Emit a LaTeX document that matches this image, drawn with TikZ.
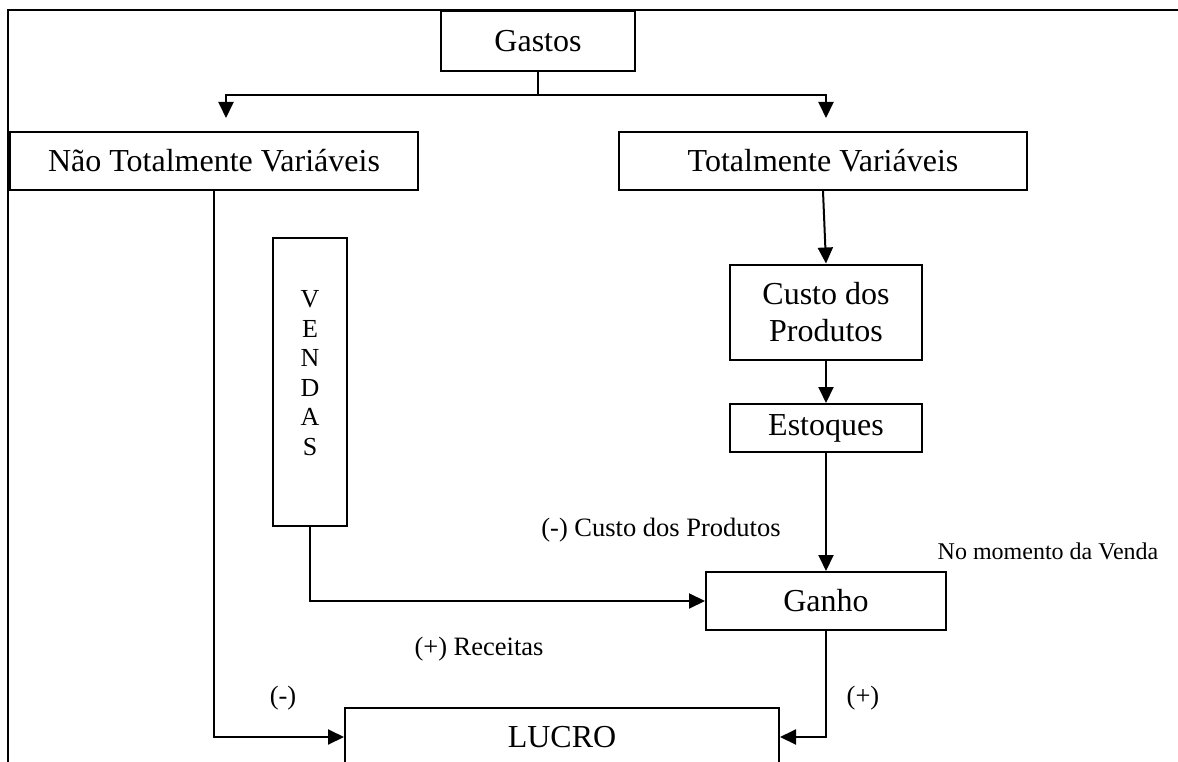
\documentclass[tikz,border=0pt]{standalone}
\usepackage{fontspec}
\setmainfont{Liberation Serif}
\usepackage{tikz}
\usetikzlibrary{arrows.meta, positioning}

\tikzset{
  caixa/.style={draw, line width=2pt, inner sep=0pt, align=center, font=\fontsize{32}{37}\selectfont},
  seta/.style={line width=2pt, -{Triangle[length=16pt, width=15pt]}},
  rotulo/.style={inner sep=0pt, font=\fontsize{26.5}{30}\selectfont}
}

\begin{document}
\begin{tikzpicture}[x=1pt, y=-1pt]
        \useasboundingbox (0,0) rectangle (1178,762);
        \draw[line width=1.5pt] (8,762) -- (8,10) -- (1178,10);

        \node[caixa, minimum width=194, minimum height=60] (gastos) at (538,41) {Gastos};
        \node[caixa, minimum width=408, minimum height=58] (ntv) at (214,161) {Não Totalmente Variáveis};
        \node[caixa, minimum width=408, minimum height=58] (tv) at (823,161) {Totalmente Variáveis};
        \node[caixa, minimum width=192, minimum height=95] (custo) at (826,312) {Custo dos\\Produtos};
        \node[caixa, minimum width=192, minimum height=48] (estoques) at (826,428) {Estoques};
        \node[caixa, minimum width=240, minimum height=58] (ganho) at (826,601) {Ganho};
        \node[caixa, minimum width=74, minimum height=288] (vendas) at (310,382) {};
        \node[align=center, inner sep=0pt, font=\fontsize{26}{29.5}\selectfont] (vendastxt) at (310,373) {V\\E\\N\\D\\A\\S};
        \node[caixa, minimum width=434, minimum height=58] (lucro) at (562,737) {LUCRO};

        \coordinate (divide) at (538,95);
        \coordinate (ntvin) at (226,118);
        \coordinate (tvin) at (826,118);
        \draw[line width=2pt] (gastos.south) -- (divide);
        \draw[seta] (divide) -| (ntvin);
        \draw[seta] (divide) -| (tvin);

        \draw[seta] (tv.south) -- (custo.north);
        \draw[seta] (custo) -- (estoques);
        \draw[seta] (estoques) -- (ganho);
        \draw[seta] (vendas.south) |- (ganho.west);
        \draw[seta] (ntv.south) |- (lucro.west);
        \draw[seta] (ganho.south) |- (lucro.east);

        \node[rotulo] (lblcusto) at (661,530) {(-) Custo dos Produtos};
        \node[rotulo, font=\fontsize{24}{28}\selectfont] (lblmomento) at (1048,551) {No momento da Venda};
        \node[rotulo] (lblreceitas) at (479,649) {(+) Receitas};
        \node[rotulo] (lblmenos) at (283,698) {(-)};
        \node[rotulo] (lblmais) at (863,698) {(+)};
    \end{tikzpicture}
\end{document}
